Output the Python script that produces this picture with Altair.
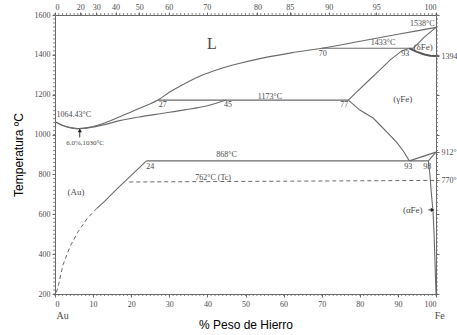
import altair as alt
import pandas as pd

# ---------------- data (x = wt.% Fe, T = °C) ----------------
liq_x = [0, 2, 4, 6, 9, 13, 18, 23, 27, 30, 33, 38, 43, 48, 55, 62, 70, 80, 90, 100]
liq_T = [1064.43, 1047, 1035, 1030, 1036, 1058, 1098, 1138, 1173, 1212, 1245, 1293, 1328, 1355, 1386, 1410, 1433, 1468, 1503, 1538]

sol_x = [0, 2, 4, 6, 9, 13, 17, 22, 28, 34, 40, 45]
sol_T = [1064.43, 1046, 1035, 1030, 1035, 1050, 1070, 1088, 1106, 1124, 1145, 1173]

per1173_x = [27, 77]
per1173_T = [1173, 1173]

gam_up_x = [77, 79, 82, 85, 88, 91, 93]
gam_up_T = [1173, 1210, 1265, 1320, 1375, 1420, 1433]

per1433_x = [70, 94]
per1433_T = [1433, 1433]

delta_sol_x = [94, 97, 100]
delta_sol_T = [1433, 1490, 1538]

delta_gam_x = [93, 95, 97, 98.5, 100]
delta_gam_T = [1433, 1415, 1402, 1396, 1394]

gam_low_x = [77, 80, 83.5, 85.3, 87.5, 89.8, 91.5, 93]
gam_low_T = [1173, 1123, 1083, 1048, 1005, 958, 915, 868]

eut868_x = [24, 98]
eut868_T = [868, 868]

ga1_x = [93, 100]
ga1_T = [868, 912]
ga2_x = [98, 100]
ga2_T = [868, 912]

alpha_x = [98, 98.4, 98.8, 99.2, 99.5, 99.75, 100]
alpha_T = [868, 800, 700, 620, 500, 350, 200]

au_solv_x = [24, 20, 16, 13, 11]
au_solv_T = [868, 795, 722, 665, 630]

au_solv_d_x = [11, 8.5, 6, 3.9, 2.1, 0.8, 0.3, 0]
au_solv_d_T = [630, 580, 511, 436, 346, 235, 205, 200]

tc_x = [19.5, 100]
tc_T = [762, 770]

# top axis: atomic % Fe
at_ticks = [0, 20, 30, 40, 50, 60, 70, 80, 85, 90, 95, 100]
M_FE, M_AU = 55.845, 196.97
top_pos = [100 * a * M_FE / (a * M_FE + (100 - a) * M_AU) for a in at_ticks]

right_vals = [200, 400, 600, 800, 1000, 1200, 1400, 1600, 1394, 912, 770]

# labels
lab_text = ["1538°C", "1433°C", "70", "93", "(δFe)", "1173°C", "27", "45", "77", "(γFe)",
            "6.0%,1030°C", "24", "868°C", "762°C (Tc)", "(Au)", "93", "98", "(αFe)"]
lab_x = [96.4, 86.1, 70.3, 91.9, 96.6, 56.4, 28.3, 45.4, 75.9, 91.3,
         7.9, 25.0, 45.0, 41.5, 5.5, 92.7, 97.7, 93.9]
lab_T = [1556, 1458, 1405, 1405, 1438, 1188, 1146, 1146, 1146, 1178,
         956, 836, 896, 780, 712, 836, 836, 620]
lab_size = [8, 8, 8, 8, 9, 8, 8, 8, 8, 9,
            7, 8, 8, 8, 9, 8, 8, 9]

segments = [
    ("liq", liq_x, liq_T, "curve"), ("sol", sol_x, sol_T, "curve"),
    ("p1173", per1173_x, per1173_T, "solid"), ("gu", gam_up_x, gam_up_T, "solid"),
    ("p1433", per1433_x, per1433_T, "solid"), ("ds", delta_sol_x, delta_sol_T, "solid"),
    ("gl", gam_low_x, gam_low_T, "solid"), ("e868", eut868_x, eut868_T, "solid"),
    ("ga1", ga1_x, ga1_T, "solid"), ("ga2", ga2_x, ga2_T, "solid"),
    ("al", alpha_x, alpha_T, "solid"), ("aus", au_solv_x, au_solv_T, "solid"),
    ("ausd", au_solv_d_x, au_solv_d_T, "dash"), ("tc", tc_x, tc_T, "dash"),
    ("dg", delta_gam_x, delta_gam_T, "thick"),
]
rows = []
for name, xs_, ts, sty in segments:
    for i, (x, t) in enumerate(zip(xs_, ts)):
        rows.append({"seg": name, "o": i, "x": x, "T": t, "sty": sty})
df = pd.DataFrame(rows)

W, H = 381, 279
LINE = "#6a6a6a"
TXT = "#4a4a4a"
SERIF = "Liberation Serif"

xs = alt.Scale(domain=[0, 100], nice=False, zero=False)
ys = alt.Scale(domain=[200, 1600], nice=False, zero=False)

ax_b = alt.Axis(values=list(range(0, 101, 10)), title="% Peso de Hierro", grid=False, format="d",
                labelFont=SERIF, labelFontSize=8, labelColor=TXT, tickSize=3, tickColor=LINE,
                domainColor=LINE, labelPadding=3, titleFont="Liberation Sans", titleFontSize=12,
                titleFontWeight="normal", titleColor="black", titlePadding=11)
ax_l = alt.Axis(values=list(range(200, 1601, 200)), title="Temperatura ºC", grid=False, format="d",
                labelFont=SERIF, labelFontSize=8, labelColor=TXT, tickSize=3, tickColor=LINE,
                domainColor=LINE, labelPadding=2, titleFont="Liberation Sans", titleFontSize=12,
                titleFontWeight="normal", titleColor="black", titlePadding=9)
ax_t = alt.Axis(orient="top", values=top_pos, title=None, grid=False,
                labelExpr="format(100*(datum.value/55.845)/(datum.value/55.845+(100-datum.value)/196.97), '.0f')",
                labelFont=SERIF, labelFontSize=8, labelColor=TXT, tickSize=3, tickColor=LINE,
                domainColor=LINE, labelPadding=1)
ax_r = alt.Axis(orient="right", values=right_vals, title=None, grid=False,
                labelExpr="datum.value==1394?'1394':datum.value==912?'912°':datum.value==770?'770°':''",
                labelFont=SERIF, labelFontSize=8, labelColor=TXT, tickSize=3, tickColor=LINE,
                domainColor=LINE, labelPadding=2)

base = alt.Chart(df)

solid = base.transform_filter(alt.datum.sty == "solid").mark_line(color=LINE, strokeWidth=1.1).encode(
    x=alt.X("x:Q", scale=xs, axis=ax_b),
    y=alt.Y("T:Q", scale=ys, axis=ax_l),
    detail="seg:N", order="o:Q")

curves = base.transform_filter(alt.datum.sty == "curve").mark_line(
    color=LINE, strokeWidth=1.1, interpolate="monotone").encode(
    x=alt.X("x:Q", scale=xs, axis=None), y=alt.Y("T:Q", scale=ys, axis=None),
    detail="seg:N", order="o:Q")

dashed = base.transform_filter(alt.datum.sty == "dash").mark_line(
    color=LINE, strokeWidth=1, strokeDash=[4, 3]).encode(
    x=alt.X("x:Q", scale=xs, axis=None), y=alt.Y("T:Q", scale=ys, axis=None),
    detail="seg:N", order="o:Q")

thick = base.transform_filter(alt.datum.sty == "thick").mark_line(color="#555", strokeWidth=2).encode(
    x=alt.X("x:Q", scale=xs, axis=None), y=alt.Y("T:Q", scale=ys, axis=None),
    detail="seg:N", order="o:Q")

# top / right axes holder
axes2 = alt.Chart(pd.DataFrame({"x": [0], "T": [200]})).mark_point(opacity=0).encode(
    x=alt.X("x:Q", scale=xs, axis=ax_t), y=alt.Y("T:Q", scale=ys, axis=ax_r))

# minor ticks
mt_y = pd.DataFrame({"T": list(range(200, 1601, 20))})
mt_x = pd.DataFrame({"x": list(range(0, 101, 1))})
minor_l = alt.Chart(mt_y).mark_rule(color=LINE, strokeWidth=0.8).encode(
    x=alt.value(-2), x2=alt.value(0), y=alt.Y("T:Q", scale=ys, axis=None))
minor_r = alt.Chart(mt_y).mark_rule(color=LINE, strokeWidth=0.8).encode(
    x=alt.value(W), x2=alt.value(W + 2), y=alt.Y("T:Q", scale=ys, axis=None))
minor_b = alt.Chart(mt_x).mark_rule(color=LINE, strokeWidth=0.8).encode(
    y=alt.value(H), y2=alt.value(H + 2), x=alt.X("x:Q", scale=xs, axis=None))
minor_t = alt.Chart(mt_x).mark_rule(color=LINE, strokeWidth=0.8).encode(
    y=alt.value(-2), y2=alt.value(0), x=alt.X("x:Q", scale=xs, axis=None))

labels = alt.Chart(pd.DataFrame({"x": lab_x, "T": lab_T, "t": lab_text, "s": lab_size})).mark_text(
    font=SERIF, color=TXT).encode(
    x=alt.X("x:Q", scale=xs, axis=None), y=alt.Y("T:Q", scale=ys, axis=None),
    text="t:N", size=alt.Size("s:Q", scale=None, legend=None))

big_L = alt.Chart(pd.DataFrame({"x": [41.2], "T": [1452], "t": ["L"]})).mark_text(
    font=SERIF, fontSize=16, color=TXT).encode(
    x=alt.X("x:Q", scale=xs, axis=None), y=alt.Y("T:Q", scale=ys, axis=None), text="t:N")

au_melt = alt.Chart(pd.DataFrame({"x": [0.4], "T": [1098], "t": ["1064.43°C"]})).mark_text(
    font=SERIF, fontSize=8, color=TXT, align="left").encode(
    x=alt.X("x:Q", scale=xs, axis=None), y=alt.Y("T:Q", scale=ys, axis=None), text="t:N")

ends = alt.Chart(pd.DataFrame({"x": [2.0, 101.0], "T": [92, 92], "t": ["Au", "Fe"]})).mark_text(
    font=SERIF, fontSize=10, color=TXT).encode(
    x=alt.X("x:Q", scale=xs, axis=None), y=alt.Y("T:Q", scale=ys, axis=None), text="t:N")

# arrows
arr_df = pd.DataFrame({"x": [6.5, 98.0], "T": [985, 622], "x2": [6.5, 99.0], "T2": [1018, 622]})
arr_lines = alt.Chart(arr_df).mark_rule(color="#333", strokeWidth=1).encode(
    x=alt.X("x:Q", scale=xs, axis=None), y=alt.Y("T:Q", scale=ys, axis=None), x2="x2:Q", y2="T2:Q")
arr_heads = alt.Chart(pd.DataFrame({"x": [6.5, 99.1], "T": [1021, 622],
                                    "sh": ["triangle-up", "triangle-right"]})).mark_point(
    filled=True, color="#222", size=18, opacity=1).encode(
    x=alt.X("x:Q", scale=xs, axis=None), y=alt.Y("T:Q", scale=ys, axis=None),
    shape=alt.Shape("sh:N", scale=None, legend=None))

chart = alt.layer(
    solid, axes2, curves, dashed, thick, minor_l, minor_r, minor_b, minor_t,
    labels, big_L, au_melt, ends, arr_lines, arr_heads
).resolve_axis(x="independent", y="independent").properties(
    width=W, height=H,
    padding={"left": 55, "top": 15, "right": 21, "bottom": 41},
    autosize=alt.AutoSizeParams(type="none"),
).configure_view(stroke=None).configure(background="white")

chart.save("out.html", embed_options={"renderer": "svg", "actions": False})
